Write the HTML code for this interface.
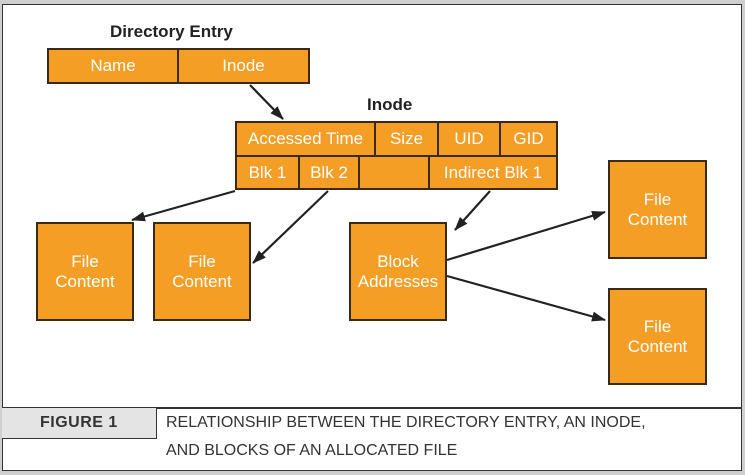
<!DOCTYPE html>
<html><head><style>
html,body{margin:0;padding:0;background:#cfcfcf;}
.w{position:relative;width:745px;height:475px;overflow:hidden;font-family:"Liberation Sans",sans-serif;}
.b{position:absolute;background:#f49e25;border:2px solid #3b2a12;box-sizing:border-box;color:#fff;font-size:17px;display:flex;align-items:center;justify-content:center;text-align:center;line-height:20px;}
.t{position:absolute;color:#222;font-weight:bold;font-size:17px;}
.c{position:absolute;color:#333;font-size:16px;font-family:"Liberation Sans",sans-serif;}
</style></head><body><div class="w">
<div style="position:absolute;left:2px;top:4px;width:738px;height:465px;background:#fff;border:1.5px solid #333;"></div>
<div style="position:absolute;left:2px;top:407px;width:740px;height:1.5px;background:#333"></div>
<div style="position:absolute;left:2px;top:408px;width:155px;height:31px;background:#e4e4e4;border-right:1.5px solid #333;border-bottom:1.5px solid #333;box-sizing:border-box"></div>
<div class="c" style="left:40px;top:414px;font-weight:bold;letter-spacing:0.5px">FIGURE 1</div>
<div class="c" style="left:166px;top:414px">RELATIONSHIP BETWEEN THE DIRECTORY ENTRY, AN INODE,</div>
<div class="c" style="left:166px;top:442px">AND BLOCKS OF AN ALLOCATED FILE</div>

<div class="t" style="left:110px;top:22px">Directory Entry</div>
<div class="b" style="left:47px;top:48px;width:132px;height:36px">Name</div>
<div class="b" style="left:177px;top:48px;width:133px;height:36px">Inode</div>
<div class="t" style="left:367px;top:95px">Inode</div>
<div class="b" style="left:235px;top:121px;width:141px;height:36px">Accessed Time</div>
<div class="b" style="left:374px;top:121px;width:65px;height:36px">Size</div>
<div class="b" style="left:437px;top:121px;width:64px;height:36px">UID</div>
<div class="b" style="left:499px;top:121px;width:59px;height:36px">GID</div>
<div class="b" style="left:235px;top:155px;width:65px;height:35px">Blk 1</div>
<div class="b" style="left:298px;top:155px;width:62px;height:35px">Blk 2</div>
<div class="b" style="left:358px;top:155px;width:72px;height:35px"></div>
<div class="b" style="left:428px;top:155px;width:130px;height:35px">Indirect Blk 1</div>
<div class="b" style="left:36px;top:222px;width:98px;height:99px">File<br>Content</div>
<div class="b" style="left:153px;top:222px;width:98px;height:99px">File<br>Content</div>
<div class="b" style="left:349px;top:222px;width:98px;height:99px">Block<br>Addresses</div>
<div class="b" style="left:608px;top:160px;width:99px;height:99px">File<br>Content</div>
<div class="b" style="left:608px;top:288px;width:99px;height:97px">File<br>Content</div>
<svg style="position:absolute;left:0;top:0" width="745" height="475">
<defs><marker id="a" markerWidth="14" markerHeight="10" refX="13" refY="5" orient="auto" markerUnits="userSpaceOnUse"><path d="M0,0L14,5L0,10z" fill="#222"/></marker></defs>
<g stroke="#222" stroke-width="2.2" marker-end="url(#a)">
<line x1="250" y1="85" x2="283" y2="119"/>
<line x1="235" y1="191" x2="132" y2="220"/>
<line x1="328" y1="191" x2="253" y2="263"/>
<line x1="490" y1="191" x2="455" y2="230"/>
<line x1="447" y1="260" x2="605" y2="212"/>
<line x1="447" y1="276" x2="605" y2="320"/>
</g></svg>
</div></body></html>
